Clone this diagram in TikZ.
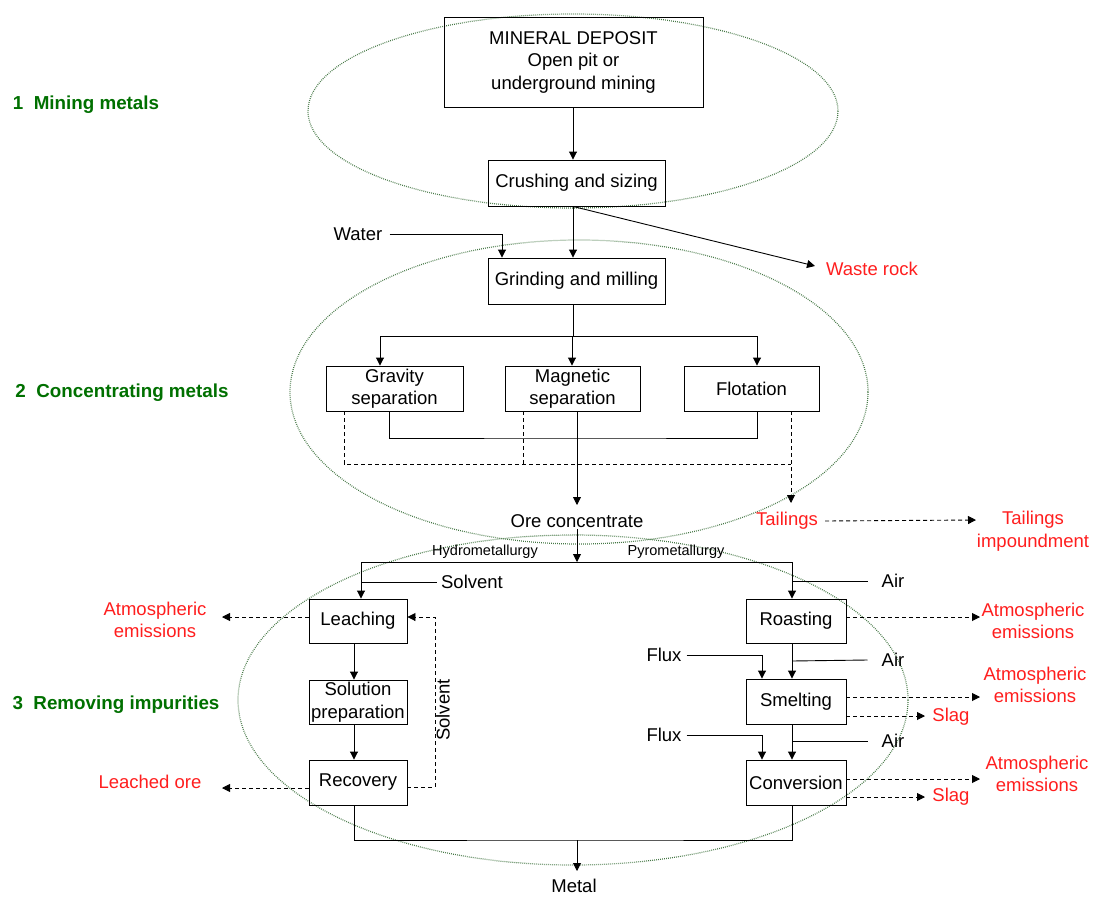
\documentclass[tikz,border=0pt]{standalone}
\usepackage{fontspec}
\setmainfont{Liberation Sans}
\usetikzlibrary{arrows.meta,calc}
\definecolor{lblgreen}{RGB}{0,112,0}
\definecolor{ellgreen}{RGB}{70,120,70}
\definecolor{outred}{RGB}{255,30,30}
\begin{document}
\begin{tikzpicture}[x=1pt,y=-1pt,
  every node/.style={font=\fontsize{18.5}{22.5}\selectfont, inner sep=1pt},
  box/.style={draw, line width=0.9pt, inner sep=0pt, align=center},
  ln/.style={line width=0.9pt},
  arr/.style={line width=0.9pt, -{Triangle[length=8pt,width=8pt]}},
  dsh/.style={dash pattern=on 4pt off 3pt},
  ell/.style={draw=ellgreen, line width=1.2pt, dash pattern=on 0.8pt off 1.2pt},
  redtxt/.style={text=outred, align=center},
  stage/.style={text=lblgreen, font=\fontsize{18.8}{22}\selectfont\bfseries},
  small/.style={font=\fontsize{14.5}{16}\selectfont}]
\useasboundingbox (0,0) rectangle (1093,897);
\fill[white] (0,0) rectangle (1093,897);

% ellipses
\draw[ell] (573,111) ellipse [x radius=265, y radius=97];
\draw[ell] (579,392) ellipse [x radius=289, y radius=152];
\draw[ell] (573,700) ellipse [x radius=335, y radius=165];

% stage labels
\node[stage] (s1) at (86,105) {1\ \ Mining metals};
\node[stage] (s2) at (122,393) {2\ \ Concentrating metals};
\node[stage] (s3) at (116,705) {3\ \ Removing impurities};

% boxes
\node[box, minimum width=259, minimum height=90] (dep) at (573.5,62) {MINERAL DEPOSIT\\Open pit or\\underground mining};
\node[box, minimum width=177, minimum height=46] (crush) at (576.5,183) {Crushing and sizing};
\node[box, minimum width=177, minimum height=46] (grind) at (576.5,281) {Grinding and milling};
\node[box, minimum width=137, minimum height=45] (grav) at (394.5,388.5) {Gravity\\separation};
\node[box, minimum width=135, minimum height=45] (mag) at (572.5,388.5) {Magnetic\\separation};
\node[box, minimum width=135, minimum height=45] (flot) at (751.5,388.5) {Flotation};
\node[box, minimum width=98, minimum height=44] (leach) at (358,621) {Leaching};
\node[box, minimum width=98, minimum height=44] (sol) at (358,702) {Solution\\preparation};
\node[box, minimum width=98, minimum height=45] (rec) at (358,782.5) {Recovery};
\node[box, minimum width=100, minimum height=44] (roast) at (796,621) {Roasting};
\node[box, minimum width=100, minimum height=45] (smelt) at (796,701.5) {Smelting};
\node[box, minimum width=100, minimum height=45] (conv) at (796,782.5) {Conversion};

% free texts
\node (water) at (358,234) {Water};
\node[redtxt] (waste) at (872,269) {Waste rock};
\node (oc) at (577,521) {Ore concentrate};
\node[redtxt] (tail) at (787,521) {Tailings};
\node[redtxt] (imp) at (1033,531) {Tailings\\impoundment};
\node[small] (hydro) at (485,552) {Hydrometallurgy};
\node[small] (pyro) at (676,552) {Pyrometallurgy};
\node (solv1) at (472,582) {Solvent};
\node[rotate=90] (solv2) at (443,710) {Solvent};
\node[redtxt] (ae1) at (155,620) {Atmospheric\\emissions};
\node[redtxt] (lo) at (150,782) {Leached ore};
\node (air1) at (893,581) {Air};
\node (air2) at (893,660) {Air};
\node (air3) at (893,741) {Air};
\node (flux1) at (664,655) {Flux};
\node (flux2) at (664,735) {Flux};
\node[redtxt] (ae2) at (1033,621) {Atmospheric\\emissions};
\node[redtxt] (ae3) at (1035,685) {Atmospheric\\emissions};
\node[redtxt] (ae4) at (1037,774) {Atmospheric\\emissions};
\node[redtxt] (slag1) at (951,717) {Slag};
\node[redtxt] (slag2) at (951,797) {Slag};
\node (metal) at (574,886) {Metal};

% coordinates
\coordinate (wasteTip) at (815,266);
\coordinate (split) at (573,336);
\coordinate (solidY) at (577,438);
\coordinate (dashY) at (791,464);
\coordinate (ocTip) at (577,505);
\coordinate (tailTip) at (791,503);
\coordinate (impTip) at (976,520);
\coordinate (brM) at (577,562);
\coordinate (brL) at (361,562);
\coordinate (brR) at (792,562);
\coordinate (ae1Tip) at (222,617);
\coordinate (loTip) at (222,788);
\coordinate (loop) at (435,617);
\coordinate (botM) at (577,840);
\coordinate (metalTip) at (577,871);
\coordinate (air2j) at (792,661);
\coordinate (air3j) at (792,741);
\coordinate (ae2Tip) at (980,617);
\coordinate (ae3Tip) at (980,697);
\coordinate (slag1Tip) at (925,716);
\coordinate (ae4Tip) at (980,779);
\coordinate (slag2Tip) at (925,797);

% mining
\draw[arr] ([xshift=-0.5]dep.south) -- ([xshift=-3.5]crush.north);
\draw[arr] ([xshift=-3.5]crush.south) -- ([xshift=-3.5]grind.north);
\draw[arr] ([xshift=6]water.east) -| ([xshift=-74.5]grind.north);
\draw[arr] ([xshift=-3.5]crush.south) -- (wasteTip);

% concentrating
\draw[ln] ([xshift=-3.5]grind.south) -- (split);
\draw[arr] (split) -| ([xshift=-14.5]grav.north);
\draw[arr] (split) -| ([xshift=-0.5]mag.north);
\draw[arr] (split) -| ([xshift=5.5]flot.north);
\draw[ln] ([xshift=-5]grav.south) |- (solidY) -| ([xshift=5.5]flot.south);
\draw[arr] ([xshift=4.5]mag.south) -- (ocTip);
\draw[ln, dsh] ([xshift=-50.5]grav.south) |- (dashY);
\draw[ln, dsh] ([xshift=-49.5]mag.south) -- ([xshift=-49.5]mag.south |- dashY);
\draw[arr, dsh] ([xshift=39.5]flot.south) -- (tailTip);
\draw[arr, dsh] ([xshift=6]tail.east) -- (impTip);

% removing impurities
\draw[arr] (oc.south) -- (brM);
\draw[ln] (brL) -- (brR);
\draw[arr] (brL) -- (brL |- leach.north);
\draw[arr] (brR) -- (brR |- roast.north);
\draw[ln] ([xshift=-3]solv1.west) -- (brL |- solv1.west);
\draw[ln] ([xshift=-13]air1.west) -- (brR |- air1.west);

\draw[arr, dsh] ([yshift=4]leach.west) -- (ae1Tip);
\draw[arr] ([xshift=-4]leach.south) -- ([xshift=-4]sol.north);
\draw[arr] ([xshift=-4]sol.south) -- ([xshift=-4]rec.north);
\draw[arr, dsh] ([yshift=-5.5]rec.west) -- (loTip);
\draw[arr, dsh] ([yshift=-4.5]rec.east) -| (loop) -- ([yshift=4]leach.east);
\draw[ln] ([xshift=-4]rec.south) |- (botM) -| ([xshift=-4]conv.south);
\draw[arr] (botM) -- (metalTip);

\draw[arr, dsh] ([yshift=4]roast.east) -- (ae2Tip);
\draw[arr] ([xshift=-4]roast.south) -- ([xshift=-4]smelt.north);
\draw[ln] (air2j) -- ([xshift=-13]air2.west);
\draw[arr] ([xshift=4]flux1.east) -| ([xshift=-34]smelt.north);
\draw[arr, dsh] ([yshift=4.5]smelt.east) -- (ae3Tip);
\draw[arr, dsh] ([yshift=-14.5]smelt.east) -- (slag1Tip);
\draw[arr] ([xshift=-4]smelt.south) -- ([xshift=-4]conv.north);
\draw[ln] (air3j) -- ([xshift=-13]air3.west);
\draw[arr] ([xshift=4]flux2.east) -| ([xshift=-34]conv.north);
\draw[arr, dsh] ([yshift=3.5]conv.east) -- (ae4Tip);
\draw[arr, dsh] ([yshift=-14.5]conv.east) -- (slag2Tip);
\end{tikzpicture}
\end{document}
